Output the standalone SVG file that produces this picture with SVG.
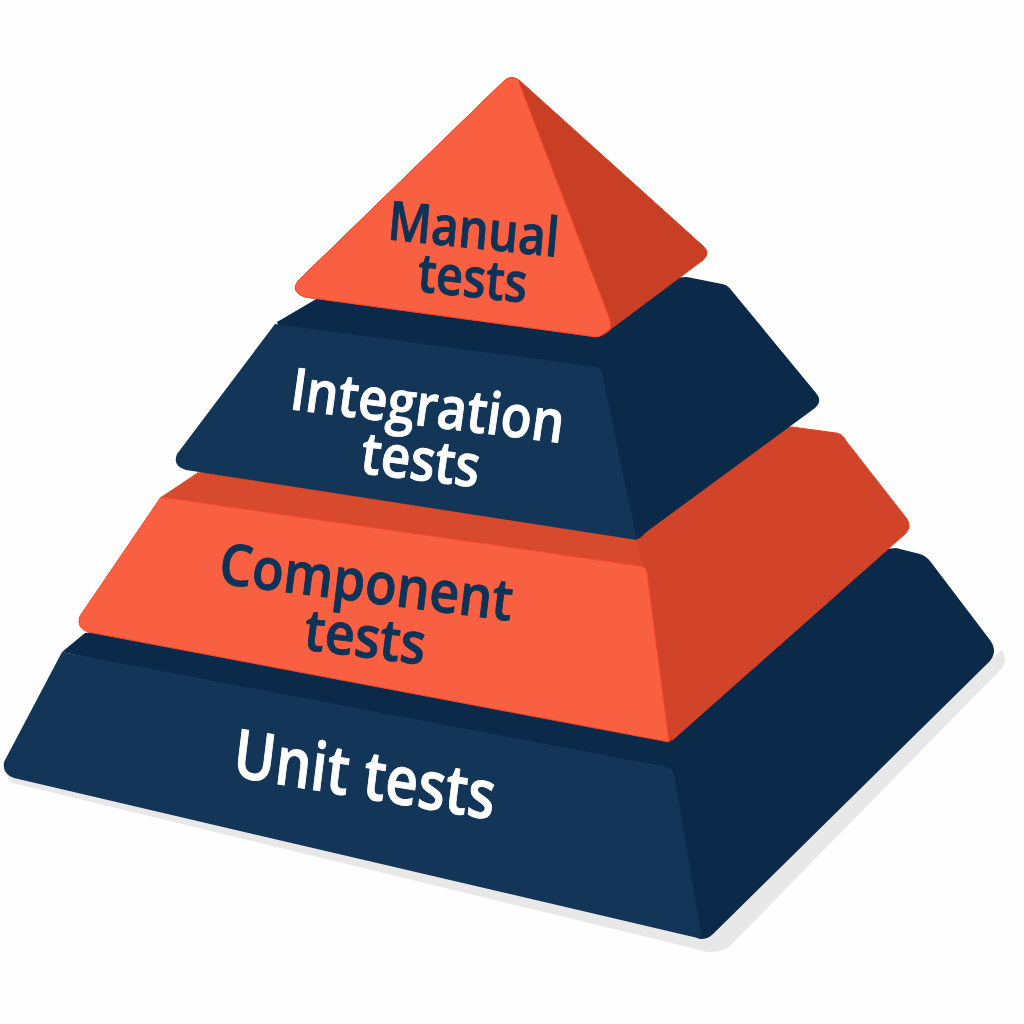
<svg xmlns="http://www.w3.org/2000/svg" width="1024" height="1024" viewBox="0 0 1024 1024">
<style>
text{font-family:"Open Sans","Noto Sans",sans-serif;font-weight:600;font-size:58px;text-anchor:middle;stroke-width:.9}
.nf{fill:#133557}
.nd{fill:#0b2a4a}
.of{fill:#f95f41;stroke:#f4482a;stroke-width:1}
.os{fill:#d24429;stroke:#e83c1c;stroke-width:1}
.ot{fill:#d74a2e}
.ms{fill:#c83f26;stroke:#e0341a;stroke-width:1}
.lw{fill:#fff;stroke:#fff}
.ln{fill:#0d3358;stroke:#0d3358}
</style>
<rect width="1024" height="1024" fill="#fefefe"/>
<g id="shadow"><path d="M6 772 Q8 782 13 783 L692 948 Q712 956 728 948 L1002 668 Q1008 660 1002 650 L700 900Z" fill="#e8e8e8"/></g>
<g id="unit-tests">
<path class="nd" d="M62 652 L85 633 L896 548 L920 554 Q926 556 930 561 L990 640 Q998 651 990 661 L713 934 Q706 941 697 938 L660 780Z"/>
<path class="nf" d="M62 652 L667 767 Q673 768 674 774 L702 939 L14 778 Q2 774 4 762Z"/>
<text class="lw" style="font-size:67px" transform="matrix(.837 .14 -.12 1 362 798)">Unit tests</text>
</g>
<g id="component-tests">
<path class="os" d="M197 473 L792 427 L836 433 Q843 434 846 441 L907 519 Q912 527 905 534 L678 735 Q672 742 664 741 L640 580Z"/>
<path class="ot" d="M161 497 L197 473 L636 539 L644 570 L300 530Z"/>
<path class="of" d="M161 497 L640 566 Q646 567 647 573 L669 742 L88 632 Q76 628 80 616Z"/>
<text class="ln" style="font-size:57px" transform="matrix(.906 .116 -.12 1 364 602)">Component</text>
<text class="ln" style="font-size:57px" transform="matrix(.906 .116 -.12 1 363 657)">tests</text>
</g>
<g id="integration-tests">
<path class="nd" d="M277 322 L318 298 L687 277 L722 284 Q728 285 732 291 L816 393 Q823 401 815 408 L645 533 Q640 540 634 539 L590 400 L280 330Z"/>
<path class="nf" d="M275 324 L597 367 Q601 368 602 373 L637 540 L186 470 Q172 466 177 454Z"/>
<text class="lw" transform="matrix(.873 .108 -.14 1 425 426)">Integration</text>
<text class="lw" transform="matrix(.873 .108 -.14 1 418 480)">tests</text>
</g>
<g id="manual-tests">
<path class="ms" d="M504 81 Q512 74 520 81 L703 246 Q711 253 703 260 L612 328 Q602 339 590 336 L305 297 Q290 292 298 281Z"/>
<path class="of" d="M504 81 Q510 75 518 80 L607 312 Q612 325 610 329 L600 336 Q595 338 590 336 L305 297 Q290 292 298 281Z"/>
<text class="ln" style="font-size:54px" transform="matrix(.87 .09 -.087 1 472 248)">Manual</text>
<text class="ln" style="font-size:54px" transform="matrix(.864 .09 -.087 1 471 297)">tests</text>
</g>
</svg>
